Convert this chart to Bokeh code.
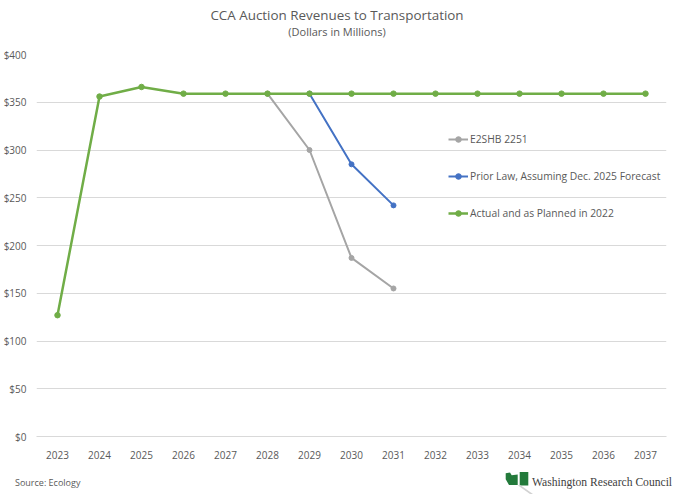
from bokeh.plotting import figure
from bokeh.layouts import column
from bokeh.models import Range1d, FactorRange, Legend, PrintfTickFormatter, FixedTicker, Div
from bokeh.embed import file_html
from bokeh.resources import INLINE

years = [str(y) for y in range(2023, 2038)]
actual_years = years
actual_vals = [127, 356, 366, 359, 359, 359, 359, 359, 359, 359, 359, 359, 359, 359, 359]
e2shb_years = ["2028", "2029", "2030", "2031"]
e2shb_vals = [359, 300, 187, 155]
prior_years = ["2029", "2030", "2031"]
prior_vals = [359, 285, 242]

title_text = "CCA Auction Revenues to Transportation"
subtitle_text = "(Dollars in Millions)"
source_text = "Source: Ecology"
brand_text = "Washington Research Council"
y_ticks = [0, 50, 100, 150, 200, 250, 300, 350, 400]

GREEN = "#70ad47"
BLUE = "#4472c4"
GRAY = "#a5a5a5"
TXT = "#595959"
FONT = "Open Sans"

W = 664
HEAD_H, FOOT_H = 34, 30
BL, BR, BT, BB = 28, 6, 10, 28
FW, FH = 630, 382
YMAX = 400

# header (title + subtitle)
head_html = (
    f'<div style="position:relative;width:{W}px;height:{HEAD_H}px;font-family:\'{FONT}\';color:{TXT};">'
    f'<div style="position:absolute;left:0;top:1px;width:{W}px;text-align:center;'
    f'font-size:13.4px;line-height:18px;white-space:nowrap;">{title_text}</div>'
    f'<div style="position:absolute;left:0;top:20px;width:{W}px;text-align:center;'
    f'font-size:11px;line-height:14px;white-space:nowrap;">{subtitle_text}</div>'
    '</div>'
)
head = Div(text=head_html, width=W, height=HEAD_H)

# main chart
p = figure(width=BL + FW + BR, height=BT + FH + BB, frame_width=FW, frame_height=FH,
           x_range=FactorRange(*years, range_padding=0),
           y_range=Range1d(0, YMAX), output_backend="svg", toolbar_location=None,
           min_border_left=BL, min_border_right=BR, min_border_top=BT, min_border_bottom=BB)
p.outline_line_color = None
p.background_fill_color = "white"
p.border_fill_color = "white"

p.xgrid.grid_line_color = None
p.ygrid.grid_line_color = "#d9d9d9"
p.ygrid.grid_line_width = 1

p.yaxis.ticker = FixedTicker(ticks=y_ticks)
p.yaxis.formatter = PrintfTickFormatter(format="$%d")
p.yaxis.axis_line_color = None
p.yaxis.major_tick_line_color = None
p.yaxis.minor_tick_line_color = None
p.yaxis.major_label_standoff = 4
p.yaxis.major_label_text_font = FONT
p.yaxis.major_label_text_font_size = "10px"
p.yaxis.major_label_text_color = TXT

p.xaxis.axis_line_color = "#d9d9d9"
p.xaxis.major_tick_line_color = None
p.xaxis.minor_tick_line_color = None
p.xaxis.major_label_standoff = 8
p.xaxis.major_label_text_font = FONT
p.xaxis.major_label_text_font_size = "10px"
p.xaxis.major_label_text_color = TXT

r1 = p.line(e2shb_years, e2shb_vals, line_color=GRAY, line_width=2)
r1m = p.scatter(e2shb_years, e2shb_vals, size=5, color=GRAY)
r2 = p.line(prior_years, prior_vals, line_color=BLUE, line_width=2)
r2m = p.scatter(prior_years, prior_vals, size=5, color=BLUE)
r3 = p.line(actual_years, actual_vals, line_color=GREEN, line_width=2.5)
r3m = p.scatter(actual_years, actual_vals, size=5.5, color=GREEN)

legend = Legend(items=[("E2SHB 2251", [r1, r1m]),
                       ("Prior Law, Assuming Dec. 2025 Forecast", [r2, r2m]),
                       ("Actual and as Planned in 2022", [r3, r3m])],
                location=(412, 216), orientation="vertical",
                glyph_width=20, glyph_height=14, label_height=14, spacing=23,
                padding=0, margin=0, label_standoff=2,
                label_text_font=FONT, label_text_font_size="10.3px", label_text_color=TXT,
                background_fill_alpha=0, border_line_color=None)
p.add_layout(legend, "center")

# footer (source + brand logo)
logo_svg = (
    f'<svg width="{W}" height="{FOOT_H}" style="position:absolute;left:0;top:0;">'
    '<polygon points="500.7,4.3 505,3.6 506.7,6.3 512.7,5.6 512.7,16 504,16 500.7,10.3" fill="#237a3b"/>'
    '<polygon points="514.7,3 523.3,3 523.3,16.5 514.7,16.5" fill="#237a3b"/>'
    '<polygon points="512.7,16.2 515.5,16.2 528,25 525,25" fill="#d2d2d2"/>'
    '</svg>'
)
foot_html = (
    f'<div style="position:relative;width:{W}px;height:{FOOT_H}px;">'
    + logo_svg +
    f'<div style="position:absolute;left:10px;top:7.5px;font-family:\'{FONT}\';font-size:9px;'
    f'line-height:12px;color:{TXT};white-space:nowrap;">{source_text}</div>'
    f'<div style="position:absolute;left:527px;top:6.5px;font-family:\'Liberation Serif\';font-size:11.6px;'
    f'line-height:14px;color:#404040;white-space:nowrap;">{brand_text}</div>'
    '</div>'
)
foot = Div(text=foot_html, width=W, height=FOOT_H)

layout = column(head, p, foot, spacing=0)
open("out.html", "w").write(file_html(layout, INLINE))
